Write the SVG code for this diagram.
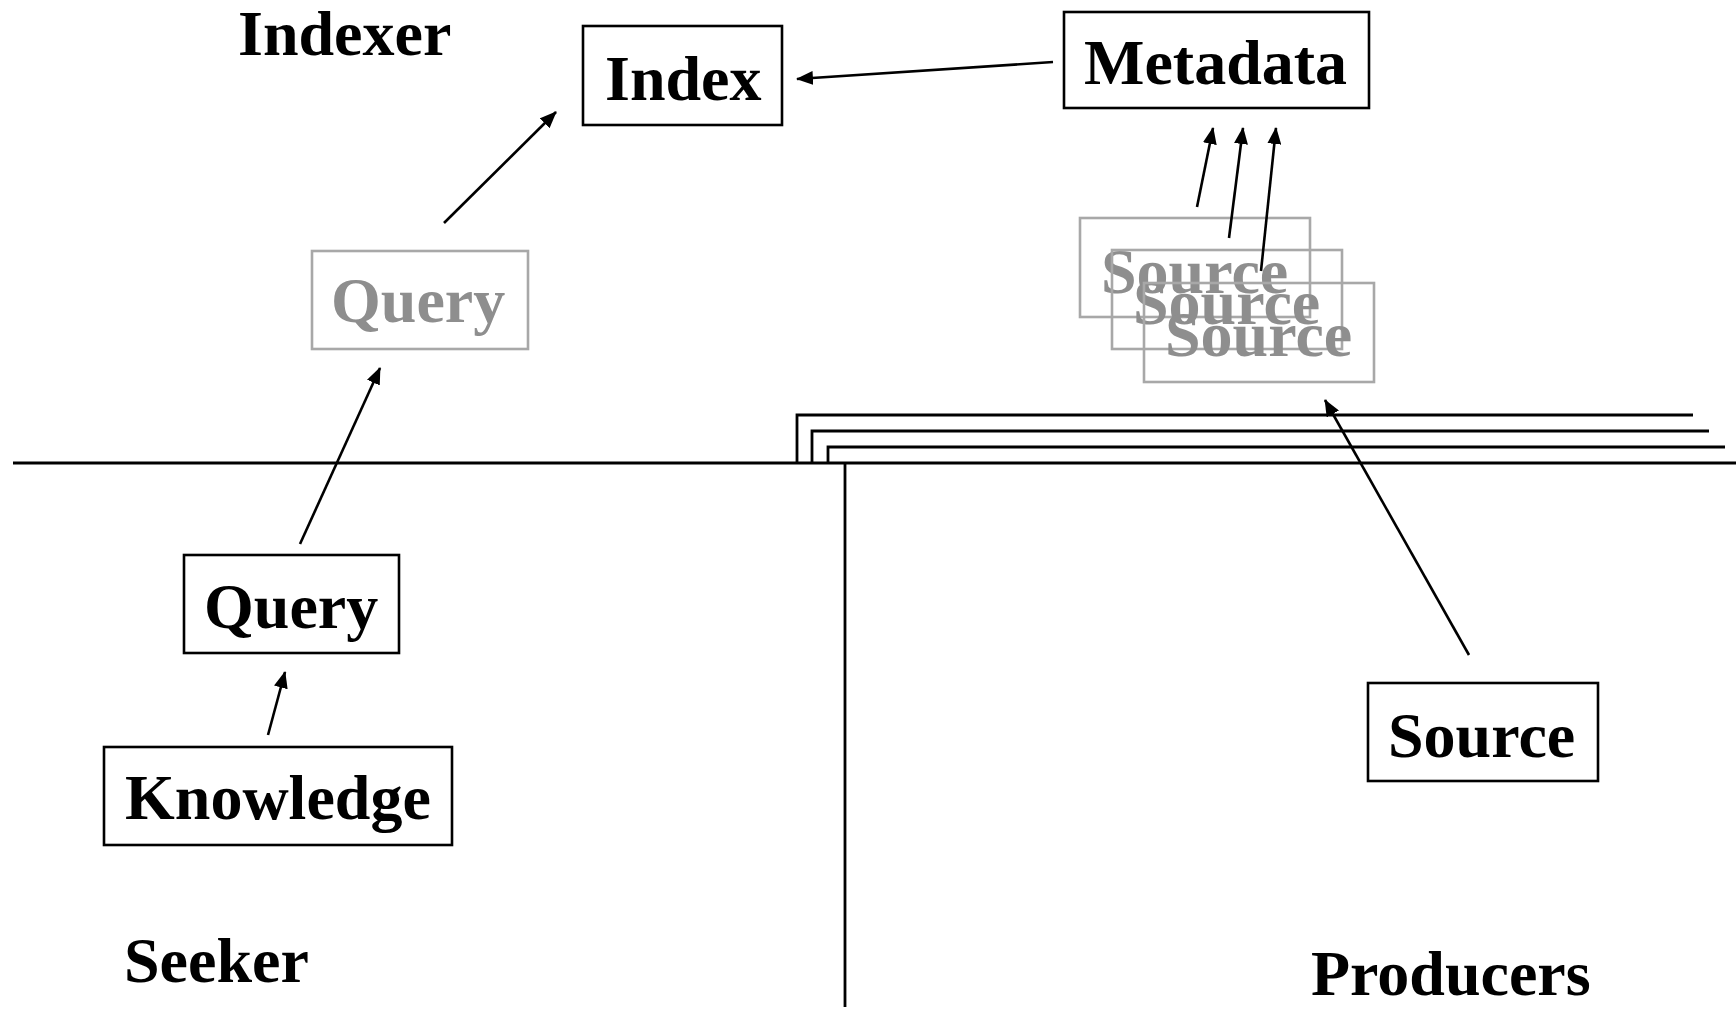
<svg xmlns="http://www.w3.org/2000/svg" width="1736" height="1011" viewBox="0 0 1736 1011">
  <style>
    .lbl { font-family: "Liberation Serif", "Times New Roman", serif; font-weight: bold; font-size: 64px; fill: #000; }
    .ghost { fill: #8e8e8e; }
    .box { fill: none; stroke: #000; stroke-width: 2.6; }
    .gbox { fill: none; stroke: #a8a8a8; stroke-width: 2.6; }
    .edge { fill: none; stroke: #000; stroke-width: 2.6; }
    .rule { fill: none; stroke: #000; stroke-width: 2.8; }
  </style>
  <defs>
    <marker id="head" markerUnits="userSpaceOnUse" markerWidth="18" markerHeight="14" refX="16" refY="7" orient="auto">
      <path d="M0,0 L17,7 L0,14 Z" fill="#000"/>
    </marker>
  </defs>
  <rect width="1736" height="1011" fill="#fff"/>

  <!-- zone titles -->
  <text class="lbl" x="238" y="55">Indexer</text>
  <text class="lbl" x="124" y="982">Seeker</text>
  <text class="lbl" x="1311" y="995">Producers</text>

  <!-- zone boundaries -->
  <g id="boundaries">
    <path class="rule" d="M13,463 H1736"/>
    <path class="rule" d="M845,463 V1007"/>
    <path class="rule" d="M797,463 V415 H1693"/>
    <path class="rule" d="M812,463 V431 H1709"/>
    <path class="rule" d="M828,463 V447 H1725"/>
  </g>

  <g id="index">
    <rect class="box" x="583" y="26" width="199" height="99"/>
    <text class="lbl" x="605" y="100">Index</text>
  </g>

  <g id="metadata">
    <rect class="box" x="1064" y="12" width="305" height="96"/>
    <text class="lbl" x="1084" y="84">Metadata</text>
  </g>

  <g id="query-indexed">
    <rect class="gbox" x="312" y="251" width="216" height="98"/>
    <text class="lbl ghost" x="331" y="322">Query</text>
  </g>

  <g id="query">
    <rect class="box" x="184" y="555" width="215" height="98"/>
    <text class="lbl" x="204" y="628">Query</text>
  </g>

  <g id="knowledge">
    <rect class="box" x="104" y="747" width="348" height="98"/>
    <text class="lbl" x="125" y="819">Knowledge</text>
  </g>

  <g id="source">
    <rect class="box" x="1368" y="683" width="230" height="98"/>
    <text class="lbl" x="1388" y="757">Source</text>
  </g>

  <g id="source-copies">
    <rect class="gbox" x="1080" y="218" width="230" height="99"/>
    <text class="lbl ghost" x="1101" y="293">Source</text>
    <rect class="gbox" x="1112" y="250" width="230" height="99"/>
    <text class="lbl ghost" x="1133" y="324">Source</text>
    <rect class="gbox" x="1144" y="283" width="230" height="99"/>
    <text class="lbl ghost" x="1165" y="356">Source</text>
  </g>

  <g id="connectors">
    <line class="edge" x1="268" y1="735" x2="285" y2="672" marker-end="url(#head)"/>
    <line class="edge" x1="300" y1="544" x2="380" y2="368" marker-end="url(#head)"/>
    <line class="edge" x1="444" y1="223" x2="556" y2="112" marker-end="url(#head)"/>
    <line class="edge" x1="1053" y1="62" x2="797" y2="79" marker-end="url(#head)"/>
    <line class="edge" x1="1197" y1="207" x2="1213" y2="128" marker-end="url(#head)"/>
    <line class="edge" x1="1229" y1="238" x2="1243" y2="128" marker-end="url(#head)"/>
    <line class="edge" x1="1261" y1="271" x2="1276" y2="128" marker-end="url(#head)"/>
    <line class="edge" x1="1469" y1="655" x2="1325" y2="400" marker-end="url(#head)"/>
  </g>
</svg>
